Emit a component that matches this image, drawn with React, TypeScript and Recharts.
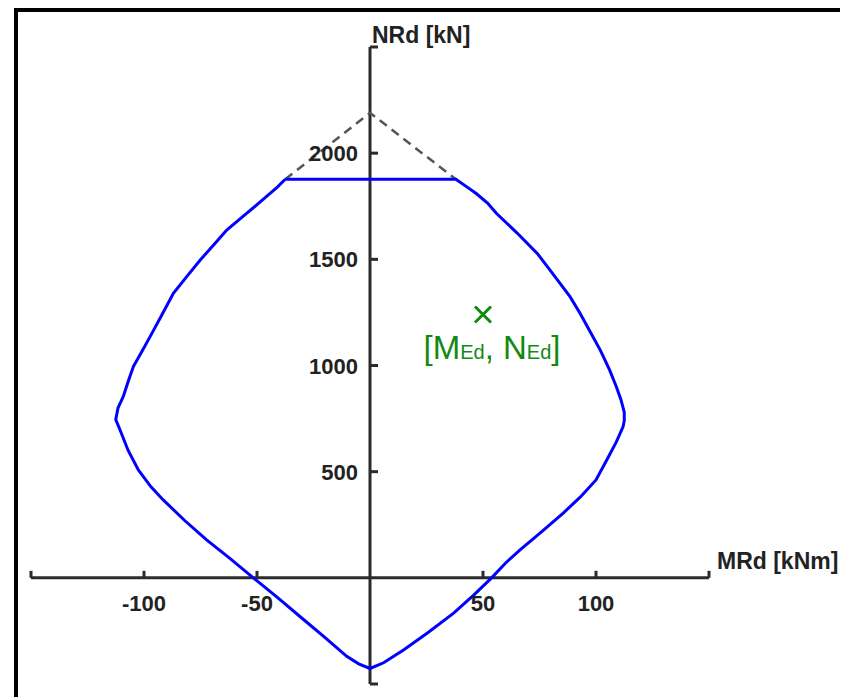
import React from 'react'
import { ComposedChart, Line, Scatter, XAxis, YAxis, ReferenceLine, ReferenceDot } from 'recharts'

// interaction diagram, walked clockwise from the top-left corner
const curveM = [-37.5, 38, 43, 47, 52, 56, 65, 74, 81, 88.5, 93, 97, 102, 106, 109, 111, 112.5, 112.5, 112, 109, 105, 100,
  93, 85.5, 76, 66.4, 60, 53.8, 46, 37, 26, 15, 6, 0,
  -5, -10.3, -20, -31, -41, -51.6, -62, -72.3, -82, -91.5, -97, -102.5, -107, -110.6, -112.5, -111.5, -109.2, -107,
  -104.7, -101, -97.3, -92, -87, -81, -75.2, -69, -63.4, -54.6, -45.1, -41, -37.5]
const curveN = [1877, 1877, 1840, 1810, 1765, 1716, 1625, 1528, 1430, 1324, 1245, 1167, 1070, 979, 900, 840, 780, 740, 712, 640, 560, 461,
  380, 305, 218, 132, 70, 0, -80, -166, -255, -339, -400, -427,
  -405, -370, -280, -182, -92, 0, 92, 179, 270, 367, 430, 508, 600, 696, 745, 800, 853, 925,
  995, 1065, 1136, 1240, 1340, 1420, 1496, 1570, 1638, 1716, 1802, 1840, 1877]

// dashed cap above the cut-off
const capM = [-37.5, 0, 38]
const capN = [1877, 2190, 1877]

const designM = [50]
const designN = [1240]

const xTicks = [-150, -100, -50, 50, 100, 150]
const xLabels = [-100, -50, 50, 100]
const yTicks = [-500, 500, 1000, 1500, 2000, 2500]
const yLabels = [500, 1000, 1500, 2000]

const curve = curveM.map((m, i) => ({ m, n: curveN[i] }))
const cap = capM.map((m, i) => ({ m, n: capN[i] }))
const design = designM.map((m, i) => ({ m, n: designN[i] }))

const axisColor = '#2b2b2b'
const font = '"Liberation Sans", Arial, sans-serif'
const green = '#128a12'

const xTick = (v: number) => (p: any) => (
  <g>
    <line x1={p.cx} y1={p.cy} x2={p.cx} y2={p.cy - 7} stroke={axisColor} strokeWidth={3} />
    {xLabels.includes(v) && (
      <text x={p.cx} y={p.cy + 33} textAnchor="middle" fontFamily={font} fontWeight="bold" fontSize={22} fill="#222">
        {v}
      </text>
    )}
  </g>
)

const yTick = (v: number) => (p: any) => (
  <g>
    <line x1={p.cx} y1={p.cy} x2={p.cx + 8} y2={p.cy} stroke={axisColor} strokeWidth={3} />
    {yLabels.includes(v) && (
      <text x={p.cx - 12} y={p.cy + 8} textAnchor="end" fontFamily={font} fontWeight="bold" fontSize={22} fill="#222">
        {v}
      </text>
    )}
  </g>
)

const cross = (p: any) => (
  <g>
    <line x1={p.cx - 8} y1={p.cy - 8} x2={p.cx + 8} y2={p.cy + 8} stroke={green} strokeWidth={3} />
    <line x1={p.cx - 8} y1={p.cy + 8} x2={p.cx + 8} y2={p.cy - 8} stroke={green} strokeWidth={3} />
    <text x={p.cx + 9} y={p.cy + 44} textAnchor="middle" fontFamily={font} fontSize={33} fill={green}>
      [M<tspan fontSize={20}>Ed</tspan>, N<tspan fontSize={20}>Ed</tspan>]
    </text>
  </g>
)

export default function App() {
  return (
    <div style={{ position: 'relative', width: 840, height: 689, overflow: 'hidden', background: '#fff' }}>
      <div style={{ position: 'absolute', left: 6, top: 0, width: 2000, height: 2000, borderTop: '4px solid #000', borderLeft: '4px solid #000' }} />
      <div style={{ position: 'absolute', left: 0, top: 0 }}>
        <ComposedChart width={840} height={689} margin={{ top: 39, right: 139, bottom: 13, left: 23 }}>
          <XAxis type="number" dataKey="m" domain={[-150, 150]} allowDataOverflow hide />
          <YAxis type="number" dataKey="n" domain={[-500, 2500]} allowDataOverflow hide />
          <ReferenceLine segment={[{ x: -150, y: 0 }, { x: 150, y: 0 }]} stroke={axisColor} strokeWidth={3} />
          <ReferenceLine segment={[{ x: 0, y: -500 }, { x: 0, y: 2500 }]} stroke={axisColor} strokeWidth={3} />
          {xTicks.map((v) => (
            <ReferenceDot key={'x' + v} x={v} y={0} r={0} shape={xTick(v)} />
          ))}
          {yTicks.map((v) => (
            <ReferenceDot key={'y' + v} x={0} y={v} r={0} shape={yTick(v)} />
          ))}
          <ReferenceDot
            x={0}
            y={2500}
            r={0}
            shape={(p: any) => (
              <text x={p.cx + 2} y={p.cy - 4} fontFamily={font} fontWeight="bold" fontSize={23} fill="#222">
                NRd [kN]
              </text>
            )}
          />
          <ReferenceDot
            x={150}
            y={0}
            r={0}
            shape={(p: any) => (
              <text x={p.cx + 8} y={p.cy - 9} fontFamily={font} fontWeight="bold" fontSize={23} fill="#222">
                MRd [kNm]
              </text>
            )}
          />
          <Line data={cap} dataKey="n" type="linear" stroke="#555" strokeWidth={2.5} strokeDasharray="9 6" dot={false} isAnimationActive={false} />
          <Line data={curve} dataKey="n" type="linear" stroke="#0000ff" strokeWidth={3} dot={false} isAnimationActive={false} />
          <Scatter data={design} dataKey="n" shape={cross} isAnimationActive={false} />
        </ComposedChart>
      </div>
    </div>
  )
}
